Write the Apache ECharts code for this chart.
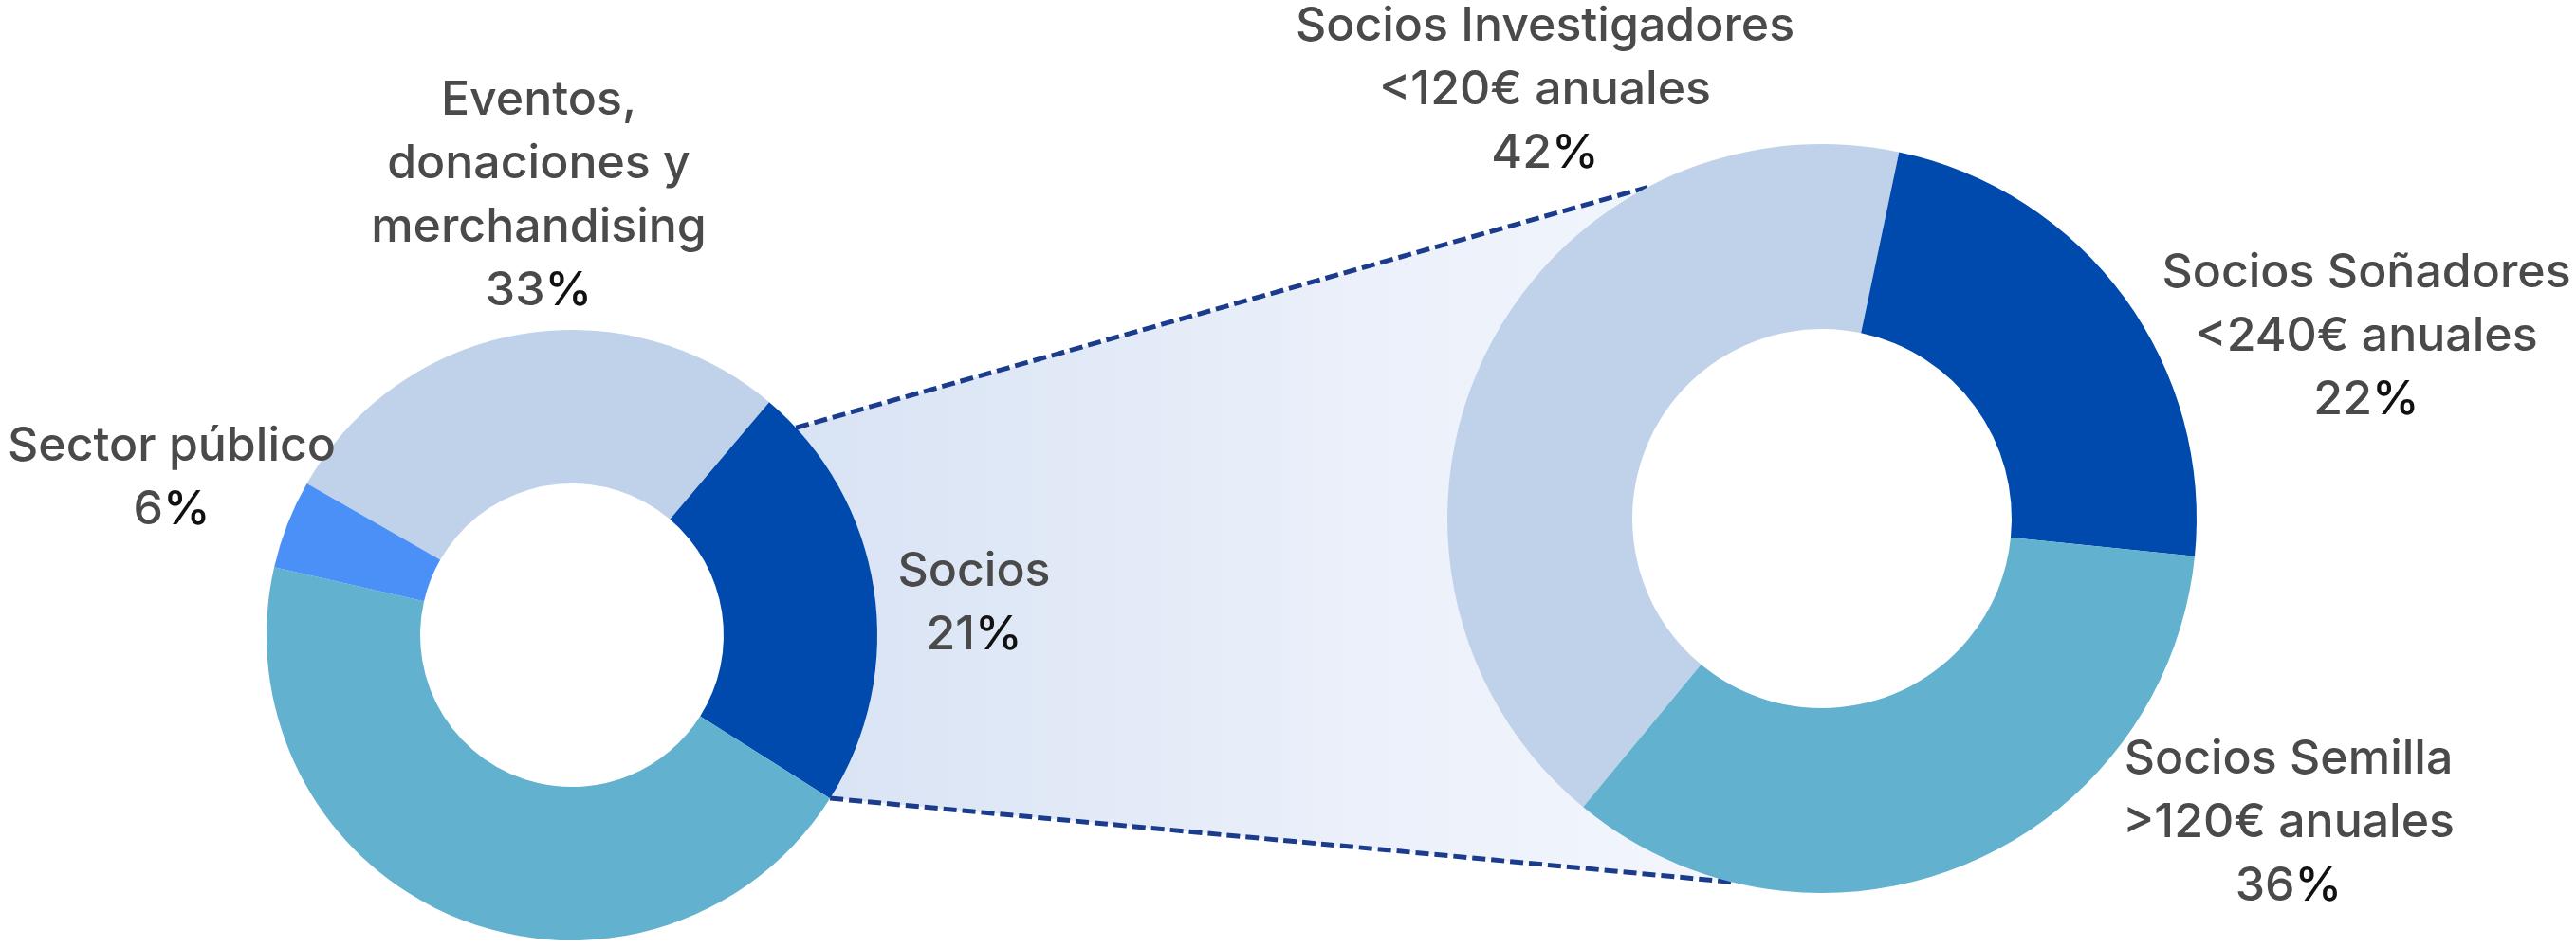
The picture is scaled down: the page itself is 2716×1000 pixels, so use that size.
<!DOCTYPE html>
<html>
<head>
<meta charset="utf-8">
<script src="https://cdn.jsdelivr.net/npm/echarts@6/dist/echarts.min.js"></script>
<style>
  html, body { margin: 0; padding: 0; background: #ffffff; }
  #chart { width: 2716px; height: 1000px; }
</style>
</head>
<body>
<div id="chart"></div>
<script>
// ---- Data ----
const leftNames = ['Eventos,\ndonaciones y\nmerchandising', 'Socios', 'Otros', 'Sector público'];
const leftValues = [27.9, 22.8, 44.6, 4.7];          // arc sizes as drawn
const leftPctLabels = ['33%', '21%', '', '6%'];      // printed percentages

const rightNames = ['Socios Investigadores\n<120€ anuales', 'Socios Soñadores\n<240€ anuales', 'Socios Semilla\n>120€ anuales'];
const rightValues = [42.3, 23.3, 34.4];
const rightPctLabels = ['42%', '22%', '36%'];

// ---- Styles / layout ----
const leftColors = ['#bfd2ea', '#0049ad', '#61b1cf', '#4a90f7'];
const rightColors = ['#bfd2ea', '#0049ad', '#61b1cf'];
const L = { cx: 603, cy: 670, r0: 160, r1: 322, start: 150.2 };
const R = { cx: 1921, cy: 547, r0: 200, r1: 395, start: 230.4 };
const leftLabelPos = [[568, 206], [1027, 636], null, [181, 504]];
const rightLabelPos = [[1629, 95], [2495, 355], [2413, 868]];

const FONT = 'Inter, Roboto, sans-serif';
const base = { fontFamily: FONT, fontSize: 50, fontWeight: 500, lineHeight: 67 };
const rich = {
  t: Object.assign({ color: '#4a4a4a', align: 'center' }, base),
  n: Object.assign({ color: '#4a4a4a' }, base),
  p: Object.assign({ color: '#111111' }, base)
};
function fmt(pcts) {
  return function (p) {
    const lines = p.name.split('\n').map(s => '{t|' + s + '}');
    const pct = pcts[p.dataIndex];
    const num = pct.replace('%', '');
    lines.push('{n|' + num + '}{p|%}');
    return lines.join('\n');
  };
}
function layout(pos) {
  return function (params) {
    const q = pos[params.dataIndex];
    if (!q) return {};
    return { x: q[0], y: q[1], align: 'center', verticalAlign: 'middle' };
  };
}

function pt(c, r, deg) {
  const a = deg * Math.PI / 180;
  return [c.cx + r * Math.cos(a), c.cy - r * Math.sin(a)];
}

// connector geometry
const topL = pt(L, L.r1, 42.8), botL = pt(L, L.r1, -32.3);
const topR = pt(R, R.r1, 117.8), botR = pt(R, R.r1, 256.1);
const poly = [topL];
for (let a = 117.8; a <= 256.1; a += 2) poly.push(pt(R, R.r1 - 1, a));
poly.push(botR, botL);

const chart = echarts.init(document.getElementById('chart'));
chart.setOption({
  backgroundColor: '#ffffff',
  animation: false,
  graphic: [
    {
      type: 'polygon', z: 0,
      shape: { points: poly },
      style: {
        fill: {
          type: 'linear', x: 0, y: 0, x2: 1, y2: 0,
          colorStops: [
            { offset: 0, color: '#d8e3f4' },
            { offset: 0.6, color: '#ebf0fa' },
            { offset: 1, color: '#f3f6fc' }
          ]
        }
      }
    },
    {
      type: 'line', z: 1,
      shape: { x1: topL[0], y1: topL[1], x2: topR[0], y2: topR[1] },
      style: { stroke: '#1b3c8c', lineWidth: 5, lineDash: [14, 6] }
    },
    {
      type: 'line', z: 1,
      shape: { x1: botL[0], y1: botL[1], x2: botR[0], y2: botR[1] },
      style: { stroke: '#1b3c8c', lineWidth: 5, lineDash: [14, 6] }
    }
  ],
  series: [
    {
      type: 'pie', z: 2,
      center: [L.cx, L.cy], radius: [L.r0, L.r1],
      startAngle: L.start, clockwise: true,
      avoidLabelOverlap: false,
      label: { show: true, position: 'outside', formatter: fmt(leftPctLabels), rich: rich },
      labelLine: { show: false },
      labelLayout: layout(leftLabelPos),
      emphasis: { disabled: true },
      data: leftNames.map((n, i) => ({
        name: n, value: leftValues[i],
        itemStyle: { color: leftColors[i] },
        label: { show: leftPctLabels[i] !== '' }
      }))
    },
    {
      type: 'pie', z: 2,
      center: [R.cx, R.cy], radius: [R.r0, R.r1],
      startAngle: R.start, clockwise: true,
      avoidLabelOverlap: false,
      label: { show: true, position: 'outside', formatter: fmt(rightPctLabels), rich: rich },
      labelLine: { show: false },
      labelLayout: layout(rightLabelPos),
      emphasis: { disabled: true },
      data: rightNames.map((n, i) => ({
        name: n, value: rightValues[i],
        itemStyle: { color: rightColors[i] }
      }))
    }
  ]
});
</script>
</body>
</html>
